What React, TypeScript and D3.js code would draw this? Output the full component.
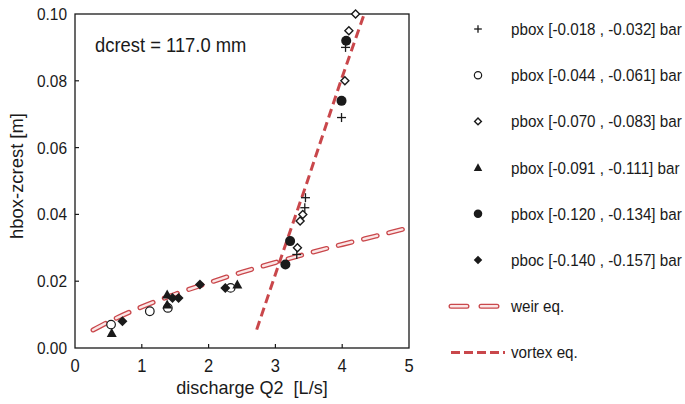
import React from 'react';
import * as d3 from 'd3';

const plusPts: [number, number][] = [[3.32, 0.028], [3.44, 0.042], [3.45, 0.045], [3.99, 0.069], [4.05, 0.090]];
const openCirclePts: [number, number][] = [[0.54, 0.007], [1.12, 0.011], [1.39, 0.012], [2.33, 0.018]];
const openDiamondPts: [number, number][] = [[3.33, 0.030], [3.37, 0.038], [3.41, 0.040], [4.04, 0.080], [4.10, 0.095], [4.20, 0.100]];
const trianglePts: [number, number][] = [[0.55, 0.0045], [1.38, 0.013], [1.38, 0.016], [2.43, 0.019]];
const filledCirclePts: [number, number][] = [[3.15, 0.025], [3.22, 0.032], [3.99, 0.074], [4.06, 0.092]];
const filledDiamondPts: [number, number][] = [[0.71, 0.008], [1.46, 0.015], [1.55, 0.015], [1.87, 0.019], [2.25, 0.018]];

// the two model curves, sampled from the figure
const weirPts: [number, number][] = [[0.27, 0.0054], [0.5, 0.0078], [1, 0.0123], [1.5, 0.0161], [2, 0.0195], [2.5, 0.0227], [3, 0.0256], [3.5, 0.0284], [4, 0.031], [4.5, 0.0335], [5, 0.036]];
const vortexPts: [number, number][] = [[2.72, 0.0055], [3.05, 0.025], [3.48, 0.05], [3.98, 0.08], [4.33, 0.1]];

const legendLabels = [
  'pbox [-0.018 , -0.032] bar',
  'pbox [-0.044 , -0.061] bar',
  'pbox [-0.070 , -0.083] bar',
  'pbox [-0.091 , -0.111] bar',
  'pbox [-0.120 , -0.134] bar',
  'pboc [-0.140 , -0.157] bar',
  'weir eq.',
  'vortex eq.',
];

const xTicks = [0, 1, 2, 3, 4, 5];
const yTicks = [0, 0.02, 0.04, 0.06, 0.08, 0.1];

const FONT = '"Liberation Sans", Arial, sans-serif';
const RED = '#c9474b';
const INK = '#1a1a1a';

// the figure uses a slightly condensed sans, so Liberation Sans gets squeezed by k
function Txt({ x, y, size, k = 0.92, anchor = 'start', rotate = 0, children }: {
  x: number; y: number; size: number; k?: number; anchor?: 'start' | 'middle' | 'end'; rotate?: number; children: React.ReactNode;
}) {
  return (
    <text transform={`translate(${x},${y}) rotate(${rotate}) scale(${k},1)`} fontSize={size} textAnchor={anchor}
      fill={INK} style={{ whiteSpace: 'pre' }}>
      {children}
    </text>
  );
}

type MarkerKind = 'plus' | 'ocircle' | 'odiamond' | 'triangle' | 'fcircle' | 'fdiamond';

function Marker({ kind, x, y, s = 1 }: { kind: MarkerKind; x: number; y: number; s?: number }) {
  switch (kind) {
    case 'plus':
      return (
        <g stroke={INK} strokeWidth={1.3}>
          <line x1={x - 4.5 * s} x2={x + 4.5 * s} y1={y} y2={y} />
          <line x1={x} x2={x} y1={y - 4.5 * s} y2={y + 4.5 * s} />
        </g>
      );
    case 'ocircle':
      return <circle cx={x} cy={y} r={4.3 * s} fill="white" stroke={INK} strokeWidth={1.2} />;
    case 'odiamond': {
      const r = 4 * s;
      return <path d={`M${x},${y - r}L${x + r},${y}L${x},${y + r}L${x - r},${y}Z`} fill="white" stroke={INK} strokeWidth={1.4} />;
    }
    case 'triangle': {
      const r = 5 * s;
      return <path d={`M${x},${y - r}L${x + r},${y + r * 0.8}L${x - r},${y + r * 0.8}Z`} fill={INK} />;
    }
    case 'fcircle':
      return <circle cx={x} cy={y} r={5 * s} fill={INK} />;
    case 'fdiamond': {
      const r = 5 * s;
      return <path d={`M${x},${y - r}L${x + r},${y}L${x},${y + r}L${x - r},${y}Z`} fill={INK} />;
    }
  }
}

const seriesList: { kind: MarkerKind; pts: [number, number][] }[] = [
  { kind: 'plus', pts: plusPts },
  { kind: 'ocircle', pts: openCirclePts },
  { kind: 'odiamond', pts: openDiamondPts },
  { kind: 'triangle', pts: trianglePts },
  { kind: 'fcircle', pts: filledCirclePts },
  { kind: 'fdiamond', pts: filledDiamondPts },
];

export default function App() {
  const x = d3.scaleLinear().domain([0, 5]).range([75, 409]);
  const y = d3.scaleLinear().domain([0, 0.1]).range([348, 14]);

  const line = d3.line<[number, number]>().x((d) => x(d[0])).y((d) => y(d[1]));
  const weirLine = d3.line<[number, number]>().curve(d3.curveMonotoneX).x((d) => x(d[0])).y((d) => y(d[1]));

  const legendX = 478;
  const textX = 511;
  const rowY = (i: number) => 29 + i * 46.2;

  return (
    <svg width={685} height={404} style={{ position: 'absolute', left: 0, top: 0, fontFamily: FONT }}>
      <rect width={685} height={404} fill="white" />
      <defs>
        <clipPath id="plotClip">
          <rect x={x(0)} y={y(0.1)} width={x(5) - x(0)} height={y(0) - y(0.1)} />
        </clipPath>
      </defs>

      {/* model curves */}
      <g clipPath="url(#plotClip)" fill="none">
        <path d={weirLine(weirPts) ?? ''} stroke={RED} strokeWidth={5} strokeDasharray="14,12" strokeLinecap="round" />
        <path d={weirLine(weirPts) ?? ''} stroke="#fbe6e6" strokeWidth={2.4} strokeDasharray="14,12" strokeLinecap="round" />
        <path d={line(vortexPts) ?? ''} stroke={RED} strokeWidth={3} strokeDasharray="9,5" />
      </g>

      {/* frame and ticks */}
      <rect x={x(0)} y={y(0.1)} width={x(5) - x(0)} height={y(0) - y(0.1)} fill="none" stroke={INK} strokeWidth={1.3} />
      {xTicks.map((t) => (
        <g key={`xt${t}`}>
          {t > 0 && t < 5 && <line x1={x(t)} x2={x(t)} y1={y(0)} y2={y(0) - 4} stroke={INK} strokeWidth={1.2} />}
          <Txt x={x(t)} y={372} size={18} anchor="middle">{String(t)}</Txt>
        </g>
      ))}
      {yTicks.map((t) => (
        <g key={`yt${t}`}>
          {t > 0 && t < 0.1 && <line x1={x(0)} x2={x(0) + 4} y1={y(t)} y2={y(t)} stroke={INK} strokeWidth={1.2} />}
          <Txt x={67} y={y(t) + 6} size={17} k={0.91} anchor="end">{d3.format('.2f')(t)}</Txt>
        </g>
      ))}

      <Txt x={252} y={394} size={19} k={0.95} anchor="middle">{'discharge Q2  [L/s]'}</Txt>
      <Txt x={23} y={176} size={19} k={0.97} anchor="middle" rotate={-90}>hbox-zcrest [m]</Txt>
      <Txt x={95} y={52} size={20} k={0.92}>dcrest = 117.0 mm</Txt>

      {/* data */}
      {seriesList.map((s) =>
        s.pts.map((p, i) => <Marker key={`${s.kind}${i}`} kind={s.kind} x={x(p[0])} y={y(p[1])} />)
      )}

      {/* legend */}
      {seriesList.map((s, i) => (
        <g key={`lg${i}`}>
          <Marker kind={s.kind} x={legendX} y={rowY(i)} s={0.85} />
          <Txt x={textX} y={rowY(i) + 6} size={17} k={0.895}>{legendLabels[i]}</Txt>
        </g>
      ))}
      <g>
        <path d={`M451,${rowY(6)}H467M481,${rowY(6)}H497`} stroke={RED} strokeWidth={5} strokeLinecap="round" fill="none" />
        <path d={`M451,${rowY(6)}H467M481,${rowY(6)}H497`} stroke="#fbe6e6" strokeWidth={2.4} strokeLinecap="round" fill="none" />
        <Txt x={textX} y={rowY(6) + 6} size={17} k={0.895}>{legendLabels[6]}</Txt>
      </g>
      <g>
        <path d={`M451,${rowY(7)}H505`} stroke={RED} strokeWidth={3} strokeDasharray="9,4" fill="none" />
        <Txt x={textX} y={rowY(7) + 6} size={17} k={0.895}>{legendLabels[7]}</Txt>
      </g>
    </svg>
  );
}
